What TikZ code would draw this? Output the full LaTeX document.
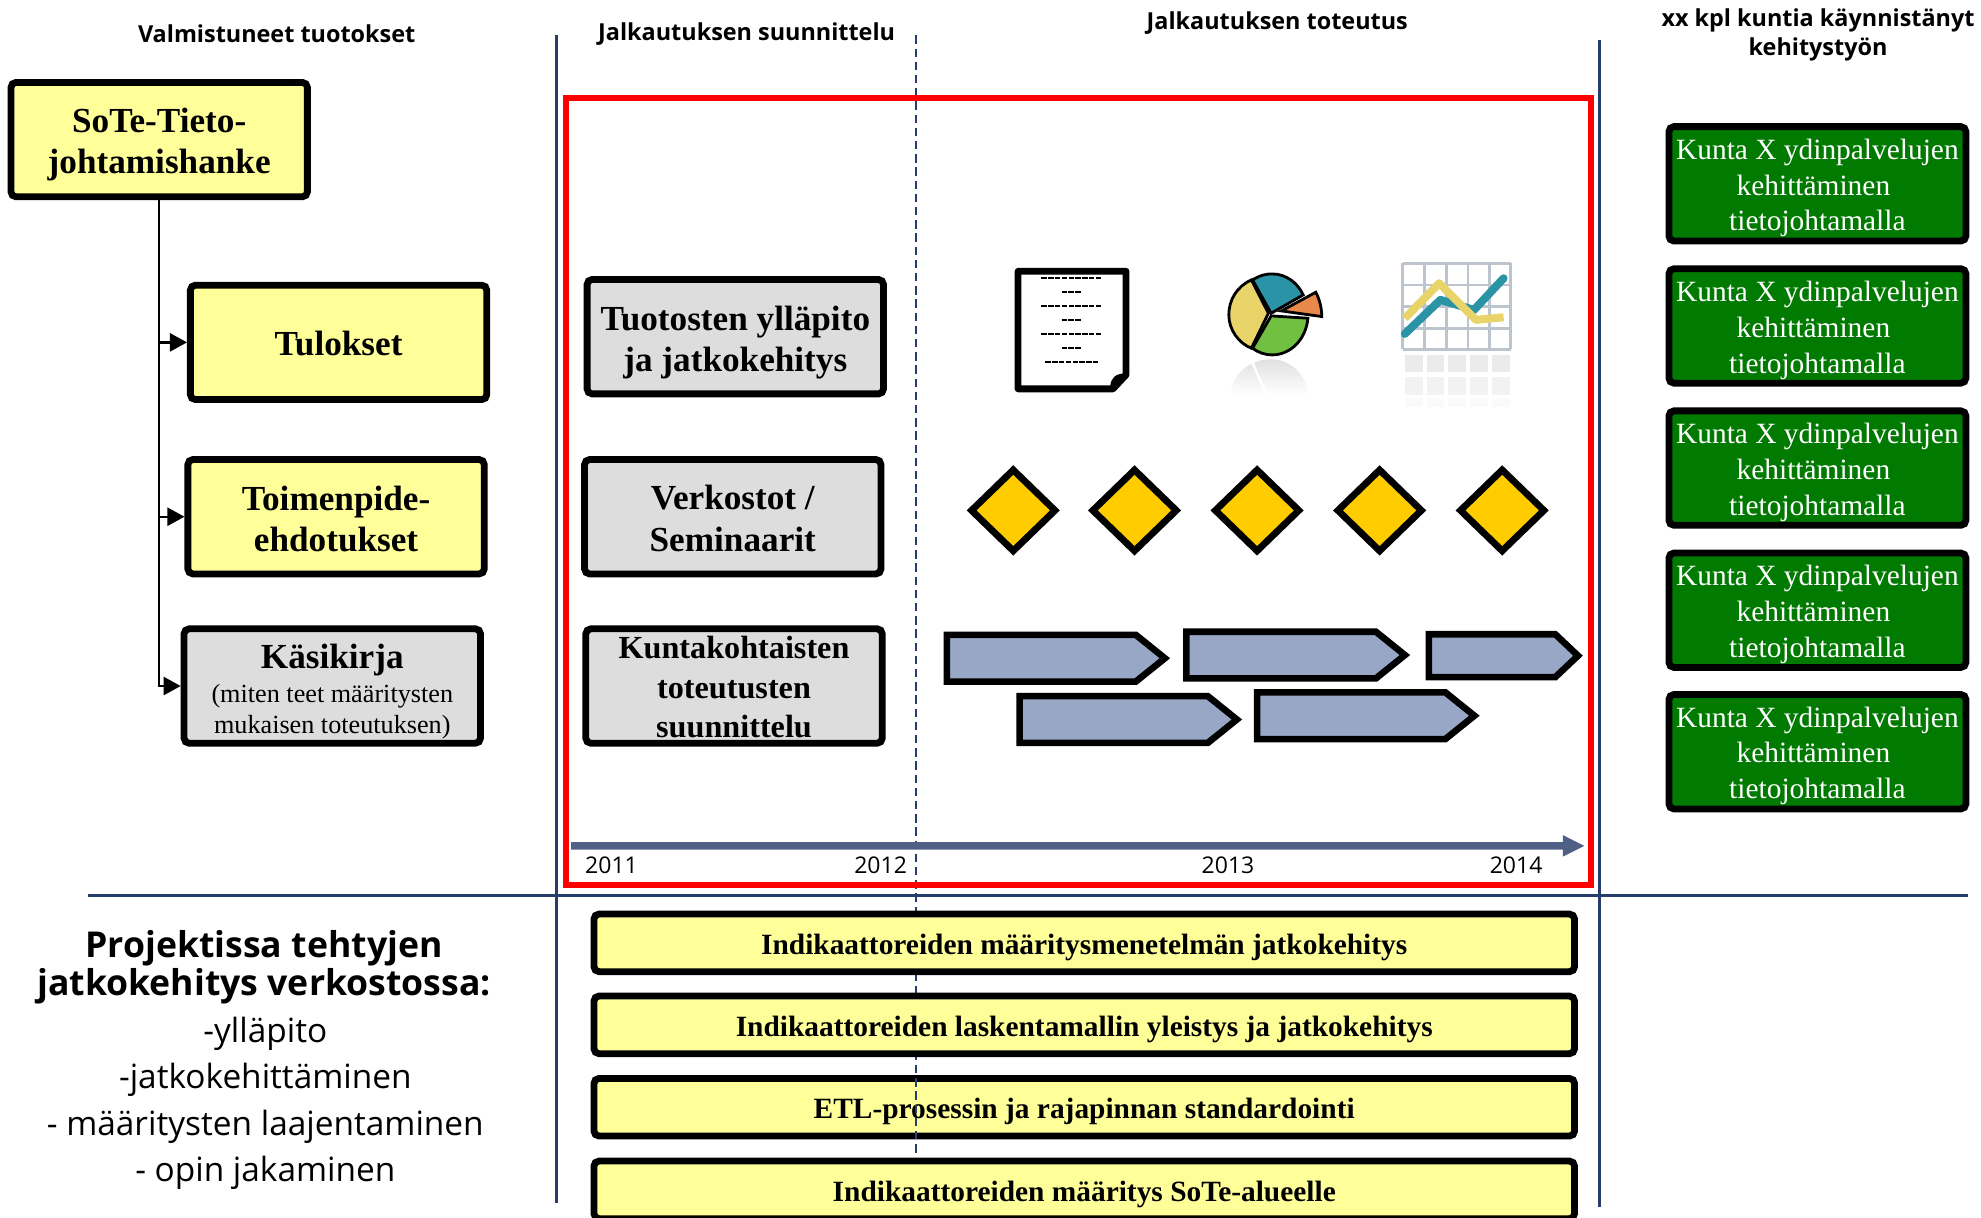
\documentclass[tikz,border=0pt]{standalone}
\usepackage{fontspec}
\setmainfont{Liberation Serif}
\newfontfamily\hdfont{Open Sans}
\usetikzlibrary{arrows.meta,calc}
\definecolor{boxyellow}{HTML}{FFFF99}
\definecolor{boxgray}{HTML}{DDDDDD}
\definecolor{boxgreen}{HTML}{007A00}
\definecolor{navy}{HTML}{263E6E}
\definecolor{tline}{HTML}{4F5F85}
\definecolor{homeblue}{HTML}{98A7C6}
\definecolor{gold}{HTML}{FFCC00}
\definecolor{pieyellow}{HTML}{E8D468}
\definecolor{pieteal}{HTML}{2A93A5}
\definecolor{piegreen}{HTML}{72C040}
\definecolor{pieorange}{HTML}{E8884A}
\definecolor{gridgray}{HTML}{BCC4CE}
\tikzset{
  pushdown/.style={execute at begin node={\rule{0pt}{#1}}},
  basebox/.style={draw=black,line width=3.4pt,rounded corners=2.5pt,inner sep=0pt,anchor=center,align=center,font=\bfseries\fontsize{17.6}{20.8}\selectfont},
  yellowbox/.style={basebox,fill=boxyellow,minimum width=148.2pt,minimum height=57.2pt},
  graybox/.style={basebox,fill=boxgray,minimum width=148.2pt,minimum height=57.2pt},
  greenbox/.style={basebox,fill=boxgreen,text=white,minimum width=148.5pt,minimum height=57.2pt,font=\fontsize{14.7}{17.9}\selectfont,pushdown=50.2pt},
  wideyellow/.style={basebox,fill=boxyellow,minimum width=490.3pt,minimum height=28.8pt,font=\bfseries\fontsize{14.7}{17}\selectfont,pushdown=14.4pt},
  hdr/.style={font=\hdfont\bfseries\fontsize{11.7}{14.5}\selectfont,align=center,inner sep=0pt},
  lefttxt/.style={font=\hdfont\fontsize{16.7}{20}\selectfont,inner sep=0pt},
  leftbold/.style={font=\hdfont\bfseries\fontsize{17.8}{20}\selectfont,inner sep=0pt},
  year/.style={font=\hdfont\fontsize{11.5}{13}\selectfont,inner sep=0pt},
  rule/.style={navy,line width=1.5pt},
  diam/.style={draw=black,fill=gold,line width=3.4pt,line join=miter},
  home/.style={draw=black,fill=homeblue,line width=3.3pt,line join=miter},
  dashline/.style={navy,line width=0.8pt,dash pattern=on 4.2pt off 2.4pt},
  docdash/.style={black,line width=1.1pt,dash pattern=on 2.7pt off 0.7pt},
  tri/.style={-{Triangle[length=8.5pt,width=9pt]},line width=1.2pt}
}
\newcommand{\smallline}[1]{{\normalfont\fontsize{13.1}{16}\selectfont #1}}
\begin{document}
\begin{tikzpicture}[x=0.6317pt,y=-0.6317pt]
\useasboundingbox (0,0) rectangle (1568,964);
% structural rules
\draw[rule] (440.5,28) -- (440.5,952);
\draw[rule] (1266,32) -- (1266,955);
\draw[rule] (70,708.5) -- (1558,708.5);
% wide boxes under the dashed line
\node[wideyellow] (b3) at (858.2,876.4) {ETL-prosessin ja rajapinnan standardointi};
\begin{scope}
\clip (0,0) rectangle (1568,964);
\node[wideyellow] (b4) at (858.2,941.8) {Indikaattoreiden määritys SoTe-alueelle};
\end{scope}
\draw[dashline] (725,28) -- (725,916);
\node[wideyellow] (b1) at (858.2,746.3) {Indikaattoreiden määritysmenetelmän jatkokehitys};
\node[wideyellow] (b2) at (858.2,811.2) {Indikaattoreiden laskentamallin yleistys ja jatkokehitys};
% red frame
\draw[red,line width=3pt] (448,77.5) rectangle (1259.5,700.5);
% headers
\node[hdr] (h1) at (219,27) {Valmistuneet tuotokset};
\node[hdr] (h2) at (591,27) {Jalkautuksen suunnittelu};
\node[hdr] (h3) at (1011,18) {Jalkautuksen toteutus};
\node[hdr] (h4) at (1439,28) {xx kpl kuntia käynnistänyt\\kehitystyön};
% left tree
\node[yellowbox,pushdown=37.8pt] (sote) at (126,110.5) {SoTe-Tieto-\\johtamishanke};
\node[yellowbox,pushdown=13.2pt] (tul) at (268,271) {Tulokset};
\node[yellowbox,pushdown=35.4pt] (toi) at (266,409) {Toimenpide-\\ehdotukset};
\node[graybox,pushdown=50.6pt] (kas) at (263,543) {Käsikirja\\[-4pt]\smallline{(miten teet määritysten}\\[-5pt]\smallline{mukaisen toteutuksen)}};
\draw[tri] (sote.south) |- (tul.west);
\draw[tri] (sote.south) |- (toi.west);
\draw[tri] (sote.south) |- (kas.west);
% gray column
\node[graybox,pushdown=39.1pt] (g1) at (582,266.5) {Tuotosten ylläpito\\ja jatkokehitys};
\node[graybox,pushdown=35pt] (g2) at (580,409) {Verkostot /\\Seminaarit};
\node[graybox,pushdown=51.4pt,font=\bfseries\fontsize{16.1}{19.6}\selectfont] (g3) at (581,543) {Kuntakohtaisten\\toteutusten\\suunnittelu};
% green column
\foreach \nm/\yy in {k1/145.5,k2/258,k3/370.5,k4/483,k5/595}
  \node[greenbox] (\nm) at (1438.5,\yy) {Kunta X ydinpalvelujen\\kehittäminen\kern4pt\\tietojohtamalla};
% diamonds
\foreach \cx in {802,898,995,1092,1189}
  \draw[diam] (\cx-33,404) -- (\cx,372) -- (\cx+33,404) -- (\cx,436) -- cycle;
% home plates
\foreach \xa/\xb/\ya/\yb/\sh in {749.5/922/502.5/539.5/23,939/1112/500/537/23,1131/1249/502/536/18,807/979/551/588/23,995/1167/548/585/23}
  \draw[home] (\xa,\ya) -- ({\xb-\sh},\ya) -- (\xb,{(\ya+\yb)/2}) -- ({\xb-\sh},\yb) -- (\xa,\yb) -- cycle;
% timeline
\fill[tline] (452,666.5) -- (1237,666.5) -- (1237,661) -- (1254,669.5) -- (1237,678) -- (1237,672.5) -- (452,672.5) -- cycle;
\node[year] (y1) at (484,684.5) {2011};
\node[year] (y2) at (697,684.5) {2012};
\node[year] (y3) at (972,684.5) {2013};
\node[year] (y4) at (1200,684.5) {2014};
% left text
\node[leftbold] (t1) at (209,750.5) {Projektissa tehtyjen};
\node[leftbold] (t2) at (209,780.5) {jatkokehitys verkostossa:};
\node[lefttxt] (t3) at (210,818.5) {-ylläpito};
\node[lefttxt] (t4) at (210,854.5) {-jatkokehittäminen};
\node[lefttxt] (t5) at (210,891.5) {- määritysten laajentaminen};
\node[lefttxt] (t6) at (210,928.5) {- opin jakaminen};
% icons, in units of a local grid
\begin{scope}[shift={(752,182)},x=0.1977pt,y=-0.1666pt]
  % document
  \draw[black,line width=3.4pt,line join=round,fill=white] (172,124) -- (445,124) -- (445,435) -- (412,477) -- (172,477) -- cycle;
  \fill[black] (405,468) .. controls (408,445) and (415,430) .. (450,430) -- (412,480) -- cycle;
  \foreach \yy/\xa/\xb in {145/231/385,187/282/331,229/231/385,271/282/331,313/231/385,355/282/331,397/241/375}
    \draw[docdash] (\xa,\yy) -- (\xb,\yy);
  % pie reflection
  \shade[top color=black!12,bottom color=white] (712,480) .. controls (720,420) and (770,388) .. (810,388) .. controls (860,388) and (900,430) .. (905,495) -- (712,495) -- cycle;
  \draw[white,line width=1.2pt] (762,390) -- (800,495);
  % pie
  \draw[black,line width=1.4pt,fill=pieyellow] (805,250) -- (762,150) .. controls (725,170) and (705,210) .. (705,255) .. controls (705,300) and (730,340) .. (762,355) -- cycle;
  \draw[black,line width=1.4pt,fill=pieteal] (812,250) -- (765,150) .. controls (785,135) and (800,132) .. (815,132) .. controls (850,132) and (880,160) .. (893,195) -- cycle;
  \draw[black,line width=1.4pt,fill=piegreen] (812,258) -- (905,265) .. controls (900,330) and (860,375) .. (815,375) .. controls (795,375) and (778,367) .. (765,355) -- cycle;
  \draw[black,line width=1.4pt,fill=pieorange] (838,243) -- (925,187) .. controls (935,210) and (940,235) .. (940,260) -- cycle;
  % chart reflection
  \foreach \xa in {1150,1205,1260,1315,1370}{
    \fill[black!8] (\xa,375) rectangle ++(45,50);
    \fill[black!5] (\xa,440) rectangle ++(45,55);
    \fill[black!2] (\xa,505) rectangle ++(45,25);
  }
  % chart
  \foreach \xa in {1145,1200,1255,1310,1365,1418}
    \draw[gridgray,line width=1.4pt] (\xa,100) -- (\xa,358);
  \foreach \yy in {100,165,230,295,358}
    \draw[gridgray,line width=1.4pt] (1145,\yy) -- (1418,\yy);
  \draw[pieteal,line width=4pt,line join=round,line cap=round] (1150,312) -- (1240,210) -- (1325,240) -- (1400,145);
  \draw[pieyellow,line width=4pt,line join=round] (1150,265) -- (1237,160) -- (1330,270) -- (1400,262);
\end{scope}
\end{tikzpicture}
\end{document}
